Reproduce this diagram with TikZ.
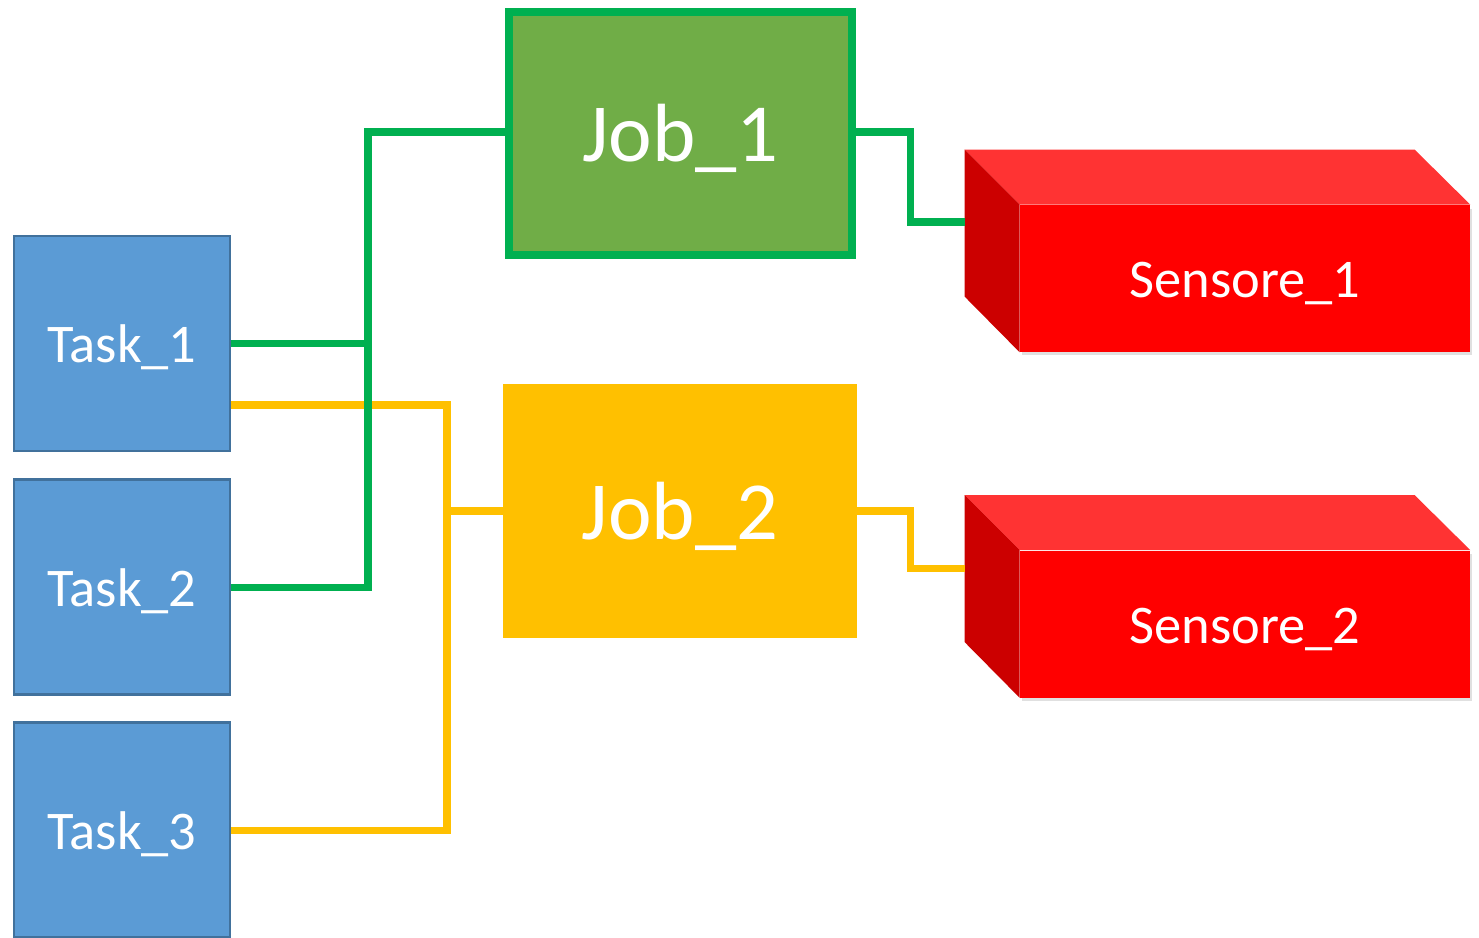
\documentclass[tikz,border=0pt]{standalone}
\usepackage{fontspec}
\setmainfont{Carlito}
\definecolor{taskblue}{HTML}{5B9BD5}
\definecolor{taskedge}{HTML}{41719C}
\definecolor{jgreen}{HTML}{00B050}
\definecolor{jfill}{HTML}{70AD47}
\definecolor{jyellow}{HTML}{FFC000}
\definecolor{redtop}{HTML}{FF3333}
\definecolor{redside}{HTML}{CC0000}
\definecolor{redfront}{HTML}{FF0000}
\newcommand{\dn}[2]{\raisebox{-#1}[\height][\depth]{#2}}
\begin{document}
\begin{tikzpicture}[x=0.02cm,y=-0.02cm,
  taskbox/.style={draw=taskedge,line width=1.2pt,fill=taskblue,minimum width=4.32cm,minimum height=4.30cm,inner sep=0pt,text=white,font=\fontsize{31}{36}\selectfont},
  jobbox/.style={minimum width=7.0cm,minimum height=5.0cm,inner sep=0pt,text=white,font=\fontsize{47}{54}\selectfont},
  sensfront/.style={fill=redfront,minimum width=9.0cm,minimum height=2.94cm,inner sep=0pt,text=white,font=\fontsize{31}{36}\selectfont},
  gline/.style={draw=jgreen,line width=4pt},
  yline/.style={draw=jyellow,line width=4pt}]
\useasboundingbox (0,0) rectangle (1479,937);
% nodes
\node[taskbox] (t1) at (122,343.5) {\dn{0.08cm}{Task\_1}};
\node[taskbox] (t2) at (122,587) {\dn{0.08cm}{Task\_2}};
\node[taskbox] (t3) at (122,830) {\dn{0.08cm}{Task\_3}};
\node[jobbox,draw=jgreen,line width=4.5pt,fill=jfill,minimum width=6.86cm,minimum height=4.86cm] (j1) at (680.5,133.5) {\dn{0.1cm}{Job\_1}};
\node[jobbox,fill=jyellow,minimum width=7.08cm,minimum height=5.08cm] (j2) at (680,511) {\dn{0.1cm}{Job\_2}};
% sensors
\foreach \n/\yc/\lab in {s1/278.5/Sensore\_1, s2/624/Sensore\_2}{
  \fill[black!12] (1022,\yc-70) rectangle (1472,\yc+76.5);
  \node[sensfront] (\n) at (1245,\yc) {\dn{0.1cm}{\lab}};
  \fill[redtop] (\n.north west) -- ++(-55,-55) -- ++(450,0) -- (\n.north east) -- cycle;
  \fill[redside] (\n.north west) -- ++(-55,-55) -- ++(0,147) -- (\n.south west) -- cycle;
}
% connectors
\coordinate (yv) at (447,405);
\draw[yline] (t1.east |- yv) -- (yv) -- (yv |- t3.east) -- (t3.east);
\draw[yline] (yv |- j2.west) -- (j2.west);
\coordinate (gv) at (368,132);
\draw[gline] (j1.west |- gv) -- (gv) -- (gv |- t2.east) -- (t2.east);
\draw[gline] (t1.east) -- (gv |- t1.east);
\coordinate (s1w) at (965,222);
\coordinate (s2w) at (965,568);
\draw[gline] (j1.east |- gv) -- (910,132) -- (910,222) -- (s1w);
\draw[yline] (j2.east) -- (910,511) -- (910,568) -- (s2w);
\end{tikzpicture}
\end{document}
